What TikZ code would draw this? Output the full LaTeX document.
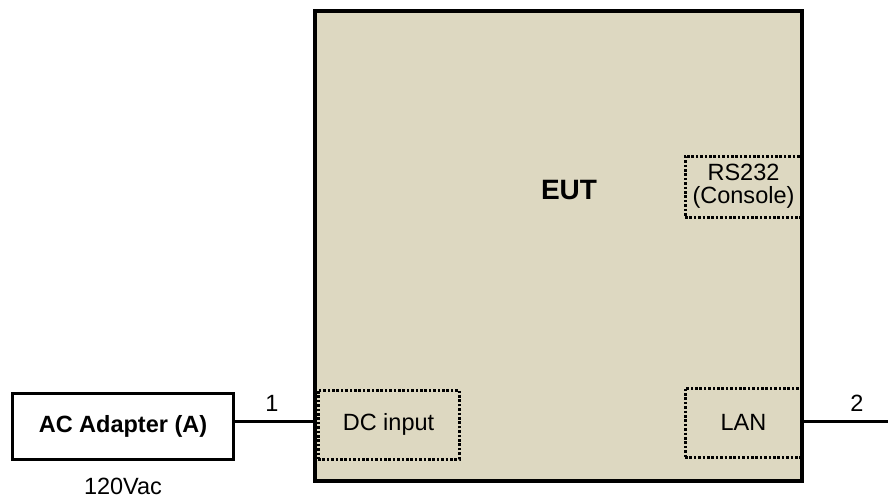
\documentclass[tikz,border=0pt]{standalone}
\usepackage{fontspec}
\setmainfont{Liberation Sans}
\usepackage{tikz}
\definecolor{euttan}{RGB}{221,216,193}

\begin{document}
\begin{tikzpicture}[
    x=1pt,y=-1pt,
    box/.style={draw,line width=3.5pt,inner sep=0pt},
    port/.style={draw,dash pattern=on 2.6pt off 1.8pt,line width=3pt,inner sep=0pt,align=center,
        font=\fontsize{23.5}{23}\selectfont},
    wire/.style={line width=3pt},
    lbl/.style={font=\fontsize{23.5}{26}\selectfont}
    ]
    \useasboundingbox (0, 0) rectangle (888, 498);
    \node[box,fill=euttan,minimum width=487,minimum height=470] (eut) at (558.5, 246) {};
    \node[font=\bfseries\fontsize{28}{30}\selectfont] (euttext) at (569, 190) {EUT};
    \node[box,fill=white,minimum width=221,minimum height=66,font=\bfseries\fontsize{23.5}{26}\selectfont] (adapter) at (123, 426.5) {AC Adapter (A)};
    \node[port,minimum width=141,minimum height=69] (dc) at (388.5, 424.5) {DC input};
    \node[port,minimum width=117,minimum height=69] (lan) at (743.5, 422.5) {LAN};
    \node[port,minimum width=117,minimum height=61] (rs) at (743.5, 186.5) {RS232\\(Console)};
    \coordinate (lanend) at (888, 421);
    \draw[wire] (adapter.east |- 0, 421) -- (eut.west |- 0, 421);
    \draw[wire] (eut.east |- 0, 421) -- (lanend);
    \node[lbl] (one) at (272, 403) {1};
    \node[lbl] (two) at (857, 403) {2};
    \node[lbl] (volt) at (123, 486) {120Vac};
  \end{tikzpicture}
\end{document}
